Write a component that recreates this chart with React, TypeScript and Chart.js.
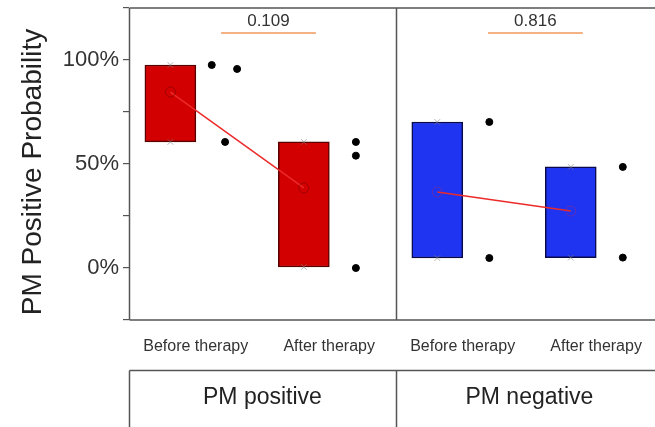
import React, { useEffect, useRef } from "react";
import { Chart, registerables } from "chart.js";
Chart.register(...registerables);

const groups = ["PM positive", "PM negative"];
const categories = ["Before therapy", "After therapy", "Before therapy", "After therapy"];
const boxLow = [60.6, 0.5, 4.8, 5];
const boxHigh = [97.6, 60.6, 70.2, 48.6];
const means = [84.6, 38.5, 36.5, 27.4];
const pointValues = [[97.6, 95.7, 60.6], [60.6, 54, 0], [70.2, 4.8], [48.6, 5]];
const pointJitter = [[-0.08, 0.11, 0.02], [0, 0, 0], [0, 0], [0, 0]];
const pValues = ["0.109", "0.816"];
const yTickLabels = [0, 50, 100];

const FONT = "'Liberation Sans', Arial, sans-serif";
const BOX_OFF = 0.31;
const DOT_OFF = 0.7;
const fills = ["#d20000", "#d20000", "#1e34f0", "#1e34f0"];
const borders = ["#5a0000", "#5a0000", "#0a0a4a", "#0a0a4a"];

export default function App() {
  const ref = useRef<HTMLCanvasElement | null>(null);
  useEffect(() => {
    document.body.style.margin = "0";
    const canvas = ref.current;
    if (!canvas) return;

    const dots: { x: number; y: number }[] = [];
    pointValues.forEach((vals, i) =>
      vals.forEach((v, j) => dots.push({ x: i + DOT_OFF + pointJitter[i][j], y: v }))
    );
    const extremes: { x: number; y: number }[] = [];
    categories.forEach((_, i) => {
      extremes.push({ x: i + BOX_OFF, y: boxLow[i] });
      extremes.push({ x: i + BOX_OFF, y: boxHigh[i] });
    });

    const framePlugin = {
      id: "frame",
      afterDraw(chart: any) {
        const { ctx, chartArea, scales } = chart;
        const xs = scales.x;
        const ys = scales.y;
        const W = chart.width;
        const H = chart.height;
        ctx.save();
        ctx.strokeStyle = "#555";
        ctx.lineWidth = 1.5;
        const div = Math.round(xs.getPixelForValue(2)) + 0.5;
        const L = chartArea.left + 0.5;
        ctx.beginPath();
        ctx.moveTo(L, chartArea.top);
        ctx.lineTo(W, chartArea.top);
        ctx.moveTo(L, chartArea.bottom);
        ctx.lineTo(W, chartArea.bottom);
        ctx.moveTo(L, chartArea.top);
        ctx.lineTo(L, chartArea.bottom);
        ctx.moveTo(div, chartArea.top);
        ctx.lineTo(div, chartArea.bottom);
        const boxTop = 370.5;
        ctx.moveTo(L, boxTop);
        ctx.lineTo(W, boxTop);
        ctx.moveTo(L, boxTop);
        ctx.lineTo(L, H);
        ctx.moveTo(div, boxTop);
        ctx.lineTo(div, H);
        ctx.stroke();

        // p-value brackets
        pValues.forEach((p, g) => {
          const x1 = xs.getPixelForValue(g * 2 + 0.69);
          const x2 = xs.getPixelForValue(g * 2 + 1.4);
          const yl = ys.getPixelForValue(113);
          ctx.strokeStyle = "#f4b183";
          ctx.lineWidth = 2;
          ctx.beginPath();
          ctx.moveTo(x1, yl);
          ctx.lineTo(x2, yl);
          ctx.stroke();
          ctx.fillStyle = "#333";
          ctx.font = `17px ${FONT}`;
          ctx.textAlign = "center";
          ctx.textBaseline = "middle";
          ctx.fillText(p, (x1 + x2) / 2, yl - 12);
        });

        // category labels
        ctx.fillStyle = "#333";
        ctx.font = `16px ${FONT}`;
        ctx.textAlign = "center";
        ctx.textBaseline = "middle";
        categories.forEach((c, i) => {
          ctx.fillText(c, xs.getPixelForValue(i + 0.5), 347);
        });

        // group labels
        ctx.font = `23px ${FONT}`;
        ctx.fillStyle = "#222";
        groups.forEach((g, i) => {
          ctx.fillText(g, xs.getPixelForValue(i * 2 + 1), 398);
        });

        // y title
        ctx.save();
        ctx.translate(33, 172);
        ctx.rotate(-Math.PI / 2);
        ctx.font = `28px ${FONT}`;
        ctx.fillStyle = "#222";
        ctx.fillText("PM Positive Probability", 0, 0);
        ctx.restore();
        ctx.restore();
      },
    };

    const chart = new Chart(canvas, {
      type: "scatter",
      data: {
        datasets: [
          {
            type: "scatter",
            data: dots,
            backgroundColor: "#000",
            borderColor: "#000",
            pointRadius: 3.5,
            order: 0,
          } as any,
          {
            type: "scatter",
            data: categories.map((_, i) => ({ x: i + BOX_OFF, y: means[i] })),
            backgroundColor: "rgba(0,0,0,0)",
            borderColor: ["rgba(120,0,0,0.55)", "rgba(120,0,0,0.55)", "rgba(170,40,110,0.45)", "rgba(170,40,110,0.45)"],
            borderWidth: 1,
            pointRadius: 5,
            order: 1,
          } as any,
          {
            type: "scatter",
            data: extremes,
            pointStyle: "crossRot",
            borderColor: "rgba(130,130,130,0.6)",
            borderWidth: 1,
            pointRadius: 4,
            order: 1,
          } as any,
          {
            type: "line",
            data: [0, 1].map((i) => ({ x: i + BOX_OFF, y: means[i] })),
            borderColor: "#ec2a2a",
            borderWidth: 1.5,
            pointRadius: 0,
            order: 2,
          } as any,
          {
            type: "line",
            data: [2, 3].map((i) => ({ x: i + BOX_OFF, y: means[i] })),
            borderColor: "#ec2a2a",
            borderWidth: 1.5,
            pointRadius: 0,
            order: 2,
          } as any,
          {
            type: "bar",
            data: categories.map((_, i) => ({ x: i + BOX_OFF, y: [boxLow[i], boxHigh[i]] })),
            backgroundColor: fills,
            borderColor: borders,
            borderWidth: 1.5,
            borderSkipped: false,
            barThickness: 51,
            grouped: false,
            order: 10,
          } as any,
        ],
      },
      options: {
        responsive: false,
        animation: false,
        layout: { padding: { top: 8, bottom: 107, left: 0, right: 0 } },
        plugins: { legend: { display: false }, tooltip: { enabled: false } },
        scales: {
          x: {
            type: "linear",
            display: false,
            offset: false,
            min: 0,
            max: 526 / 135,
          },
          y: {
            type: "linear",
            min: -25,
            max: 125,
            afterFit: (s: any) => {
              s.width = 129;
              s.paddingTop = 0;
              s.paddingBottom = 0;
            },
            border: { display: false },
            grid: { drawOnChartArea: false, tickLength: 6, color: "#555", lineWidth: 1.2 },
            ticks: {
              stepSize: 25,
              padding: 4,
              color: "#333",
              font: { size: 22, family: FONT },
              callback: (v: any) => (yTickLabels.includes(Number(v)) ? `${v}%` : ""),
            },
          },
        },
      },
      plugins: [framePlugin],
    });
    return () => chart.destroy();
  }, []);
  return (
    <div style={{ width: 655, height: 427 }}>
      <canvas ref={ref} width={655} height={427} style={{ width: 655, height: 427, display: "block" }} />
    </div>
  );
}
